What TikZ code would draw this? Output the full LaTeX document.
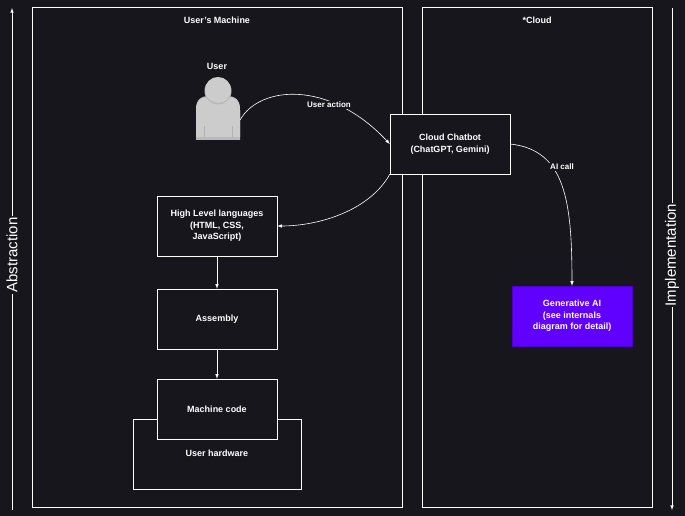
\documentclass[tikz,border=0pt]{standalone}
\usepackage{fontspec}
\setmainfont{Liberation Sans}
\begin{document}
\definecolor{bg}{HTML}{18161D}
\definecolor{gai}{HTML}{6000FF}
\begin{tikzpicture}[x=1pt,y=-1pt,
  box/.style={draw=white,fill=bg,text=white,minimum width=120pt,minimum height=60pt,align=center,font=\fontsize{9}{11.5}\selectfont\bfseries,inner sep=1pt},
  lbl/.style={text=white,font=\fontsize{9}{11}\selectfont\bfseries},
  elbl/.style={text=white,fill=bg,font=\fontsize{8}{10}\selectfont\bfseries,inner sep=1pt},
  arr/.style={draw=white,-latex,line width=0.6pt},
  big/.style={text=white,fill=bg,rotate=90,font=\fontsize{15}{18}\selectfont,inner sep=1pt}]
\fill[bg] (0,0) rectangle (685,516);
\useasboundingbox (0,0) rectangle (685,516);
% axes
\coordinate (a0) at (12,510); \coordinate (a1) at (12,8);
\draw[arr] (a0) -- (a1);
\node[big] (abs) at (12,255) {Abstraction};
\coordinate (i0) at (672,8); \coordinate (i1) at (672,510);
\draw[arr] (i0) -- (i1);
\node[big] (imp) at (672,255) {Implementation};
% containers
\node[draw=white,minimum width=370pt,minimum height=500pt,anchor=north west,inner sep=0] (um) at (32,7) {};
\node[lbl] (umt) at (217,20) {User's Machine};
\node[draw=white,minimum width=230pt,minimum height=500pt,anchor=north west,inner sep=0] (cl) at (422,7) {};
\node[lbl] (clt) at (537,20) {*Cloud};
% user
\node[lbl] (ul) at (217,66) {User};
\begin{scope}
\fill[gray!55] (196,140) -- (196,110) .. controls (196,100) and (200,96) .. (210,96) -- (226,96) .. controls (236,96) and (240,100) .. (240,110) -- (240,140) -- cycle;
\fill[gray!40] (196,137) -- (196,110) .. controls (196,101) and (200,97) .. (210,97) -- (226,97) .. controls (236,97) and (240,101) .. (240,110) -- (240,137) -- cycle;
\fill[gray!55] (218,91) circle (13.5);
\fill[gray!40] (218,90) circle (13);
\draw[gray!60,line width=0.8pt] (204,126) -- (204,137) (232,126) -- (232,137);
\end{scope}
\coordinate (user) at (240,120);
% boxes
\node[box] (cb) at (450,144) {Cloud Chatbot\\(ChatGPT, Gemini)};
\node[draw=white,fill=bg,minimum width=168pt,minimum height=70pt,anchor=north west,inner sep=0] (hw) at (133,419) {};
\node[lbl] (hwt) at (217,453) {User hardware};
\node[box] (hl) at (217,226) {High Level languages\\(HTML, CSS,\\JavaScript)};
\node[box] (as) at (217,319) {Assembly};
\node[box] (mc) at (217,409) {Machine code};
\node[box,fill=gai,draw=gai!80!black] (ga) at (572,316) {Generative AI\\(see internals\\diagram for detail)};
% edges
\draw[arr] (user) .. controls (260,85) and (330,80) .. (cb.west);
\node[elbl] (ua) at (329,105) {User action};
\draw[arr] (cb.south west) .. controls (370,210) and (320,226) .. (hl.east);
\draw[arr] (cb.east) .. controls (565,150) and (572,200) .. (ga.north);
\node[elbl] (ai) at (562,167) {AI call};
\draw[arr] (hl) -- (as);
\draw[arr] (as) -- (mc);
\end{tikzpicture}
\end{document}
